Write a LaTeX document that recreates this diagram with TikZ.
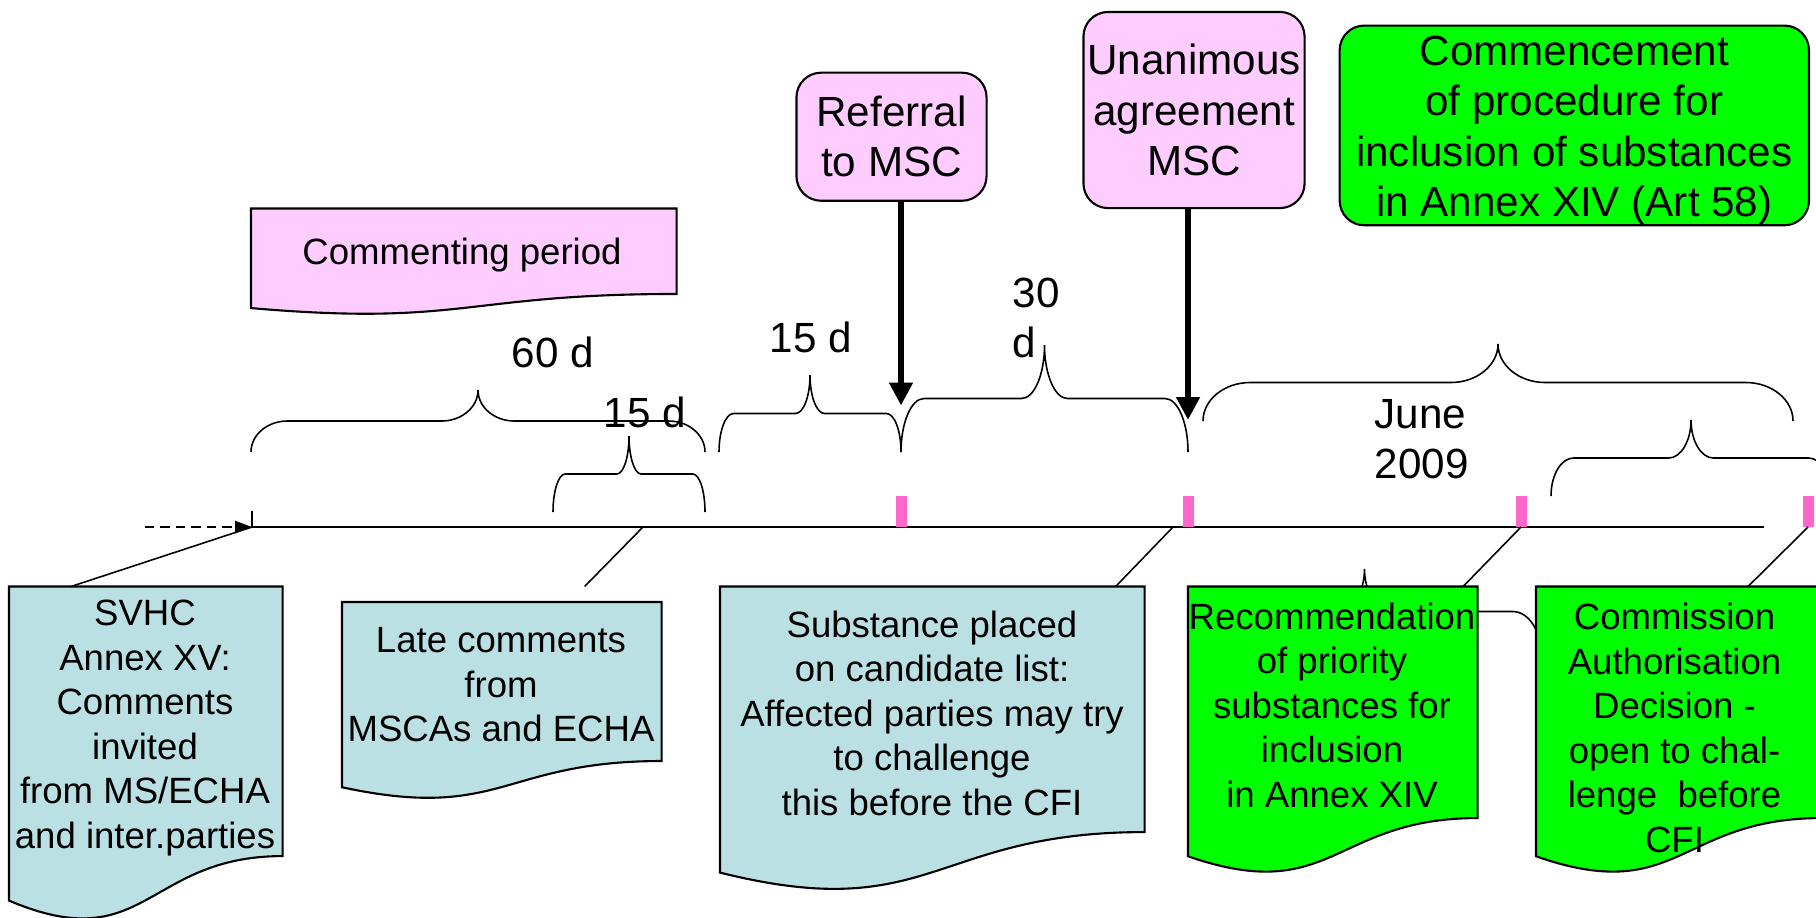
\documentclass[tikz,border=0pt]{standalone}
\usepackage{fontspec}
\setmainfont{Liberation Sans}
\usetikzlibrary{calc,arrows.meta}

\definecolor{docblue}{RGB}{187,224,227}
\definecolor{boxpink}{RGB}{255,204,255}
\definecolor{markpink}{RGB}{255,102,204}
\definecolor{docgreen}{RGB}{0,255,0}

\newcommand{\lowfont}{\fontsize{10.4}{12.66}\selectfont}
\newcommand{\highfont}{\fontsize{12}{14.3}\selectfont}

\tikzstyle{topbox} = [rectangle, rounded corners=7pt, draw=black, line width=0.6pt, inner sep=0pt, align=center, font=\highfont]
\tikzstyle{docbox} = [rectangle, inner sep=0pt, anchor=north west]
\tikzstyle{doctext} = [inner sep=0pt, align=center, font=\lowfont]
\tikzstyle{daytext} = [inner sep=0pt, align=left, font=\highfont]
\tikzstyle{docline} = [draw=black, line width=0.6pt]
\tikzstyle{bracepath} = [line width=0.45pt]
\tikzstyle{leader} = [line width=0.45pt]
\tikzstyle{bigarrow} = [line width=1.7pt, -{Triangle[length=6.5pt,width=6.4pt]}]

% document box: flat top, wavy bottom below the node
\newcommand{\docwave}[2]{%
	\filldraw[docline, fill=#2] let \p1=(#1.north west), \p2=(#1.south east) in
		(\p1) -- (\x2,\y1) -- (\p2)
		.. controls ({(\x1+\x2)/2},\y2) and ({(\x1+\x2)/2},{\y2-0.381*(\y1-\y2)})
		.. (\x1,{\y2-0.165*(\y1-\y2)}) -- cycle;}

% curly brace over the timeline: from x #1 to x #2, ends at y #3, tip at y #4
\newcommand{\tbrace}[4]{%
	\pgfmathsetmacro\brMid{(#1+#2)/2}%
	\pgfmathsetmacro\brArm{(#3+#4)/2}%
	\pgfmathsetmacro\brR{0.08*(#2-#1)}%
	\draw[bracepath] (#1,#3)
		.. controls (#1,{#3+0.552*(\brArm-#3)}) and ({#1+0.448*\brR},\brArm) .. ({#1+\brR},\brArm)
		-- ({\brMid-\brR},\brArm)
		.. controls ({\brMid-0.448*\brR},\brArm) and (\brMid,{#4+0.552*(\brArm-#4)}) .. (\brMid,#4)
		.. controls (\brMid,{#4+0.552*(\brArm-#4)}) and ({\brMid+0.448*\brR},\brArm) .. ({\brMid+\brR},\brArm)
		-- ({#2-\brR},\brArm)
		.. controls ({#2-0.448*\brR},\brArm) and (#2,{#3+0.552*(\brArm-#3)}) .. (#2,#3);}

\begin{document}
\begin{tikzpicture}[x=0.01cm, y=-0.01cm]
	\useasboundingbox (0,0) rectangle (1816,917);

	\tbrace{251}{705}{452}{390}
	\tbrace{553}{705}{512}{436}
	\tbrace{719}{901}{452}{375}
	\tbrace{901}{1188}{452}{345}
	\tbrace{1203}{1793}{421}{344}
	\tbrace{1551}{1831}{496}{420}
	\tbrace{1188}{1541}{654}{569}

	\node (comment) [docbox, minimum width=42.4mm, minimum height=8.4mm] at (251,208.5) {};
	\docwave{comment}{boxpink}
	\node (commentText) [doctext] at (462,255.5) {Commenting period};

	\node (svhc) [docbox, minimum width=27.2mm, minimum height=26.8mm] at (9,586.5) {};
	\docwave{svhc}{docblue}
	\node (svhcText) [doctext] at (145,728) {SVHC\\Annex XV:\\Comments\\invited\\from MS/ECHA\\and inter.parties};

	\node (late) [docbox, minimum width=31.8mm, minimum height=15.75mm] at (342,602) {};
	\docwave{late}{docblue}
	\node (lateText) [doctext] at (501,684.7) {Late comments\\from\\MSCAs and ECHA};

	\node (subst) [docbox, minimum width=42.3mm, minimum height=24.4mm] at (720,586.5) {};
	\docwave{subst}{docblue}
	\node (substText) [doctext] at (932,713.2) {Substance placed\\on candidate list:\\Affected parties may try\\to challenge\\this before the CFI};

	\node (recom) [docbox, minimum width=28.8mm, minimum height=23mm] at (1188,586.5) {};
	\docwave{recom}{docgreen}
	\node (recomText) [doctext] at (1332,705) {Recommendation\\of priority\\substances for\\inclusion\\in Annex XIV};

	\node (commis) [docbox, minimum width=28.4mm, minimum height=23mm] at (1536,586.5) {};
	\docwave{commis}{docgreen}
	\node (commisText) [doctext] at (1674.5,727.7) {Commission\\Authorisation\\Decision -\\open to chal-\\lenge\ \ before\\CFI};

	\node (referral) [topbox, fill=boxpink, minimum width=19mm, minimum height=12.8mm] at (891.5,136.7) {Referral\\to MSC};
	\node (unanimous) [topbox, fill=boxpink, minimum width=22.1mm, minimum height=19.6mm] at (1194,110) {Unanimous\\agreement\\MSC};
	\node (commence) [topbox, fill=docgreen, minimum width=46.9mm, minimum height=19.7mm] at (1574.3,125.4) {\rule{0pt}{11.4pt}Commencement\\of procedure for\\inclusion of substances\\in Annex XIV (Art 58)};

	\node (days60) [daytext] at (553,352) {60 d};
	\node (days15a) [daytext] at (645,412) {15 d};
	\node (days15b) [daytext] at (811,337) {15 d};
	\node (days30) [daytext, anchor=west] at (1012,318) {30\\d};
	\node (june) [daytext, anchor=west] at (1374,439) {June\\2009};

	\coordinate (tDash) at (145,527);
	\coordinate (tStart) at (252,527);
	\coordinate (tLate) at (643,527);
	\coordinate (tRef) at (901,527);
	\coordinate (tSub) at (1173,527);
	\coordinate (tUna) at (1188,527);
	\coordinate (tRec) at (1521,527);
	\coordinate (tCom) at (1808,527);
	\coordinate (tEnd) at (1764,527);
	\coordinate (refTip) at (901,405.5);
	\coordinate (unaTip) at (1188,420);

	\draw[line width=0.6pt] (tStart) -- (tEnd);
	\draw[line width=0.6pt] (tStart) -- ++(0,-16);
	\draw[line width=0.6pt, dash pattern=on 2.7pt off 1.7pt, -{Triangle[length=4.8pt,width=3.4pt]}] (tDash) -- (tStart);

	\fill[markpink] ($(tRef)+(-5.5,-31)$) rectangle ($(tRef)+(5.5,0)$);
	\fill[markpink] ($(tUna)+(-5.5,-31)$) rectangle ($(tUna)+(5.5,0)$);
	\fill[markpink] ($(tRec)+(-5.5,-31)$) rectangle ($(tRec)+(5.5,0)$);
	\fill[markpink] ($(tCom)+(-5.5,-31)$) rectangle ($(tCom)+(5.5,0)$);

	\draw[leader] (tStart) -- ($(svhc.north west)+(62,0)$);
	\draw[leader] (tLate) -- ($(late.north east)+(-77,-15.5)$);
	\draw[leader] (tSub) -- ($(subst.north east)+(-29,0)$);
	\draw[leader] (tRec) -- ($(recom.north east)+(-14.5,0)$);
	\draw[leader] (tCom) -- ($(commis.north west)+(212,0)$);

	\draw[bigarrow] (referral.south -| tRef) -- (refTip);
	\draw[bigarrow] (unanimous.south -| tUna) -- (unaTip);
\end{tikzpicture}
\end{document}
